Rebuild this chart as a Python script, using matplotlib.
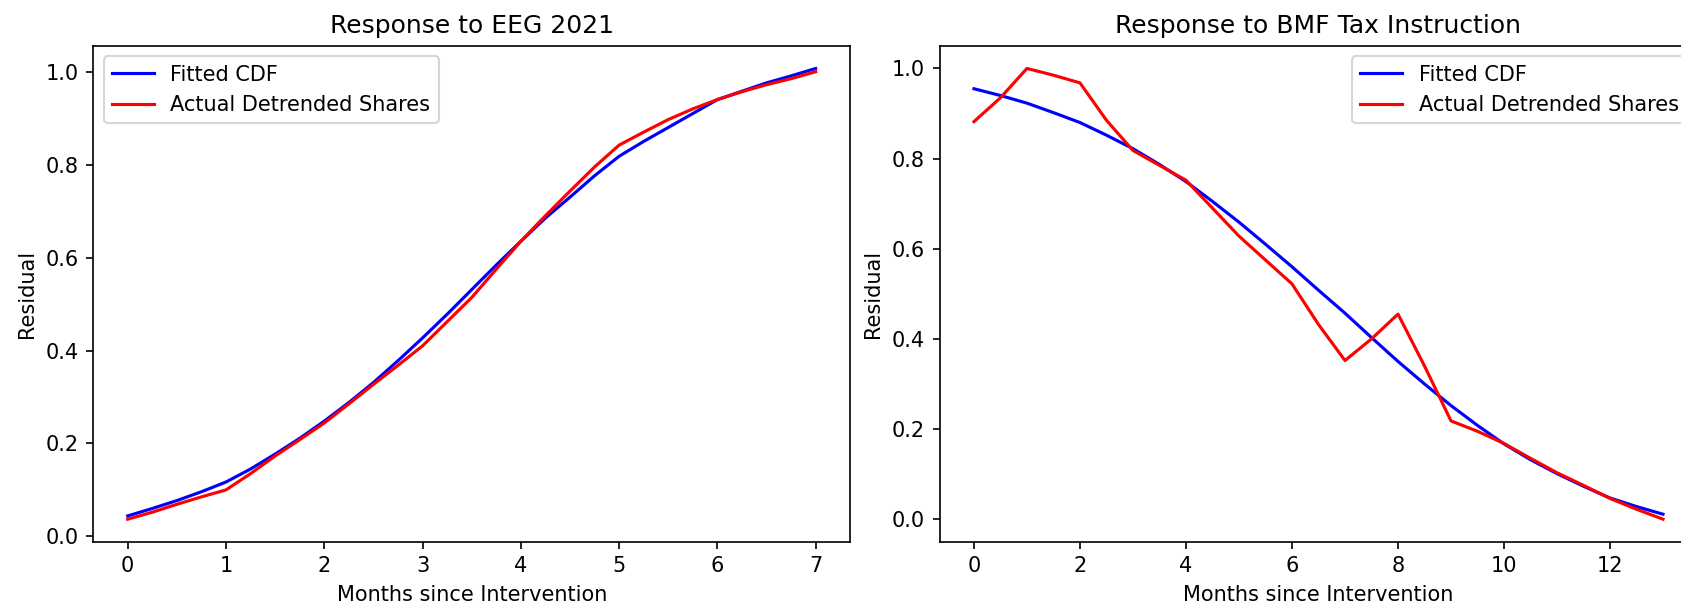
import matplotlib
matplotlib.use("Agg")
import matplotlib.pyplot as plt

# EEG 2021 response, sampled every quarter month
eeg_months = [0.00, 0.25, 0.50, 0.75, 1.00, 1.25, 1.50, 1.75, 2.00, 2.25,
              2.50, 2.75, 3.00, 3.25, 3.50, 3.75, 4.00, 4.25, 4.50, 4.75,
              5.00, 5.25, 5.50, 5.75, 6.00, 6.25, 6.50, 6.75, 7.00]
eeg_fitted = [0.044, 0.060, 0.077, 0.096, 0.117, 0.145, 0.177, 0.211, 0.248, 0.288,
              0.331, 0.378, 0.427, 0.478, 0.531, 0.584, 0.635, 0.685, 0.730, 0.776,
              0.818, 0.850, 0.880, 0.910, 0.940, 0.958, 0.976, 0.991, 1.007]
eeg_actual = [0.037, 0.052, 0.069, 0.085, 0.100, 0.135, 0.173, 0.208, 0.244, 0.285,
              0.327, 0.368, 0.410, 0.462, 0.514, 0.575, 0.635, 0.690, 0.743, 0.795,
              0.842, 0.870, 0.897, 0.920, 0.940, 0.957, 0.972, 0.985, 1.000]

# BMF tax instruction response, sampled every half month
bmf_months = [0.0, 0.5, 1.0, 1.5, 2.0, 2.5, 3.0, 3.5, 4.0, 4.5, 5.0, 5.5, 6.0, 6.5,
              7.0, 7.5, 8.0, 8.5, 9.0, 9.5, 10.0, 10.5, 11.0, 11.5, 12.0, 12.5, 13.0]
bmf_fitted = [0.955, 0.940, 0.923, 0.902, 0.880, 0.852, 0.822, 0.787, 0.749, 0.705,
              0.659, 0.610, 0.560, 0.508, 0.457, 0.403, 0.350, 0.300, 0.252, 0.208,
              0.167, 0.132, 0.101, 0.073, 0.047, 0.028, 0.011]
bmf_actual = [0.882, 0.935, 1.000, 0.985, 0.968, 0.885, 0.818, 0.785, 0.752, 0.690,
              0.628, 0.575, 0.522, 0.432, 0.352, 0.400, 0.455, 0.340, 0.218, 0.195,
              0.168, 0.135, 0.103, 0.075, 0.046, 0.022, 0.000]

fig = plt.figure(figsize=(1681 / 150, 605 / 150), dpi=150)
ax1 = fig.add_axes([0.0555, 0.1046, 0.4502, 0.8195])
ax2 = fig.add_axes([0.5589, 0.1046, 0.4509, 0.8195])

ax1.plot(eeg_months, eeg_fitted, color="blue", label="Fitted CDF")
ax1.plot(eeg_months, eeg_actual, color="red", label="Actual Detrended Shares")
ax1.set_title("Response to EEG 2021")
ax1.set_xlabel("Months since Intervention")
ax1.set_ylabel("Residual")
ax1.legend(loc="upper left")

ax2.plot(bmf_months, bmf_fitted, color="blue", label="Fitted CDF")
ax2.plot(bmf_months, bmf_actual, color="red", label="Actual Detrended Shares")
ax2.set_title("Response to BMF Tax Instruction")
ax2.set_xlabel("Months since Intervention")
ax2.set_ylabel("Residual")
ax2.legend(loc="upper right")

fig.savefig("out.png", dpi=150)
